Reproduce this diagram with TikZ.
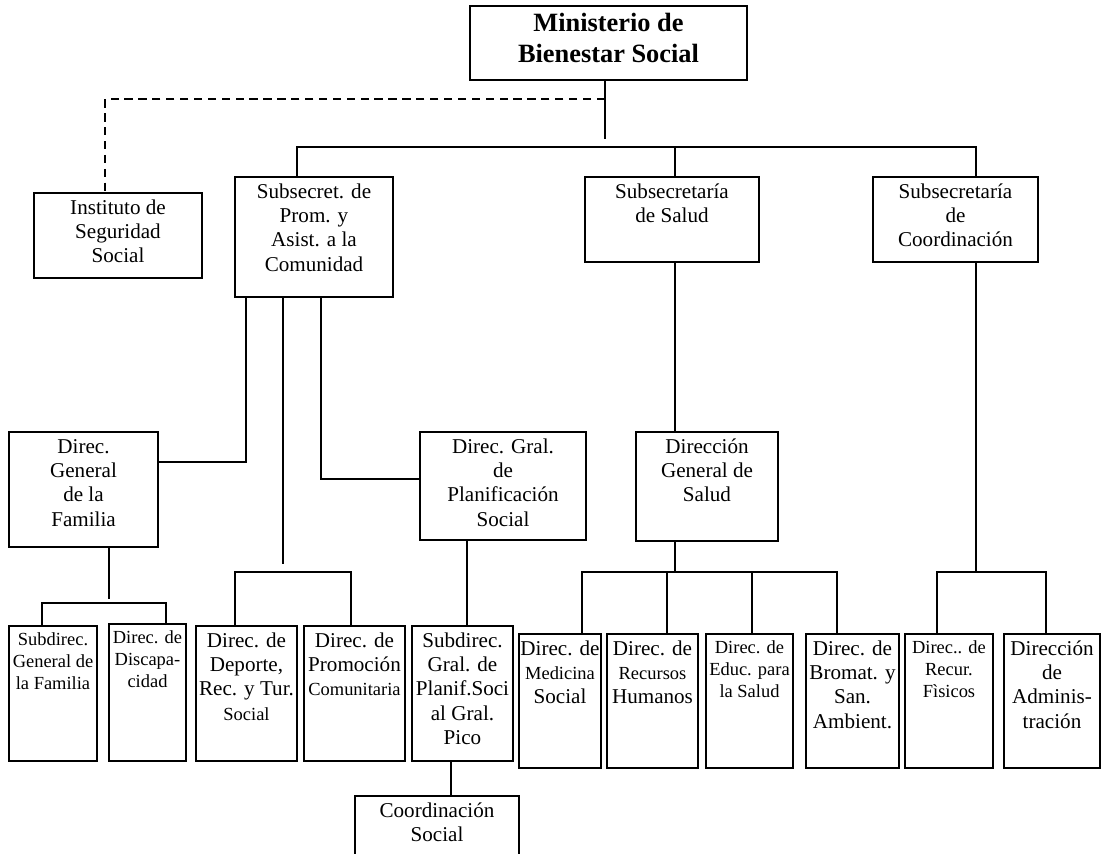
\documentclass[tikz,border=0pt]{standalone}
\usepackage{fontspec}
\setmainfont{Liberation Serif}
\usetikzlibrary{fit}
\newcommand{\normaltxt}{\fontsize{12pt}{13.9pt}\selectfont}
\newcommand{\smalltxt}{\fontsize{10.5pt}{12.5pt}\selectfont}
\newcommand{\boldtxt}{\fontsize{15pt}{17.6pt}\selectfont\bfseries}
% box of the chart: name, corners (x1,y1) (x2,y2), text set at its top
\newcommand{\orgbox}[7][]{%
  \node[box, fit={(#3,#4) (#5,#6)}] (#2) {};
  \node[txt, #1] (#2t) at (#2.north) {\strut#7};
}
\tikzset{
x=0.5687pt, y=-0.5687pt, % one unit is one pixel of the chart, y runs down
box/.style={draw, line width=1.1pt, inner sep=0pt}, % every unit of the chart
txt/.style={anchor=north, align=center, inner sep=0pt, yshift=-2.6pt, font=\normaltxt},
link/.style={line width=1pt}, % plain connector
dashlink/.style={line width=1pt, dash pattern=on 4.7pt off 3.2pt}, % dashed connector
}
\begin{document}
\begin{tikzpicture}
\useasboundingbox (0,0) rectangle (1102,854);
\clip (0,0) rectangle (1102,854);
% top level
\orgbox[font=\boldtxt]{mbs}{470}{6}{747}{80}{Ministerio de\\Bienestar Social}
\orgbox{inst}{34}{193}{202}{278}{Instituto de\\Seguridad\\Social}
\orgbox{subprom}{235}{177}{393}{297}{Subsecret. de\\Prom. y\\Asist. a la\\Comunidad}
\orgbox{subsal}{585}{177}{759}{262}{Subsecretaría\\de Salud}
\orgbox{subcoord}{873}{177}{1038}{262}{Subsecretaría\\de\\Coordinación}
% general directions
\orgbox{dgfam}{9}{432}{158}{547}{Direc.\\General\\de la\\Familia}
\orgbox{dgplan}{420}{432}{586}{540}{Direc. Gral.\\de\\Planificación\\Social}
\orgbox{dgsal}{636}{432}{778}{541}{Dirección\\General de\\Salud}
% directions
\orgbox[font=\smalltxt]{sdfam}{9}{626}{97}{761}{Subdirec.\\General de\\la Familia}
\orgbox[font=\smalltxt]{ddisc}{109}{624}{186}{761}{Direc. de\\Discapa-\\cidad}
\orgbox{ddep}{196}{626}{297}{761}{Direc. de\\Deporte,\\Rec. y Tur.\\{\smalltxt Social}}
\orgbox{dprom}{304}{626}{405}{761}{Direc. de\\Promoción\\{\smalltxt Comunitaria}}
\orgbox{sdplan}{412}{626}{513}{761}{Subdirec.\\Gral. de\\Planif.Soci\\al Gral.\\Pico}
\orgbox{dmed}{519}{634}{601}{768}{Direc. de\\{\smalltxt Medicina}\\Social}
\orgbox{drrhh}{607}{634}{698}{768}{Direc. de\\{\smalltxt Recursos}\\Humanos}
\orgbox[font=\smalltxt]{deduc}{706}{634}{793}{768}{Direc. de\\Educ. para\\la Salud}
\orgbox{dbrom}{806}{634}{899}{768}{Direc. de\\Bromat. y\\San.\\Ambient.}
\orgbox[font=\smalltxt]{dfis}{905}{634}{993}{768}{Direc.. de\\Recur.\\Fìsicos}
\orgbox{dadm}{1004}{634}{1100}{768}{Dirección\\de\\Adminis-\\tración}
\orgbox{coordsoc}{355}{796}{519}{880}{Coordinación\\Social}
% junctions
\coordinate (dsh) at (605,99.3);
\coordinate (mend) at (605,139);
\coordinate (mbus) at (605,147);
\coordinate (pa) at (246,462);
\coordinate (pb) at (283.3,564);
\coordinate (pc) at (320.7,479);
\coordinate (pbus) at (283.3,572);
\coordinate (fbus) at (109,602.7);
\coordinate (sbus) at (675,572);
\coordinate (cbus) at (976,572);
% connectors
\draw[link] (mbs.south -| mend) -- (mend);
\draw[dashlink] (dsh) -| (inst.north -| 105,0);
\draw[link] (subprom.north -| 296.7,0) |- (mbus);
\draw[link] (subsal.north -| 675,0) |- (mbus);
\draw[link] (subcoord.north -| 976,0) |- (mbus);
\draw[link] (subprom.south -| pa) -- (pa) -- (dgfam.east |- pa);
\draw[link] (subprom.south -| pb) -- (pb);
\draw[link] (subprom.south -| pc) -- (pc) -- (dgplan.west |- pc);
\draw[link] (ddep.north -| 235,0) |- (pbus);
\draw[link] (dprom.north -| 350.7,0) |- (pbus);
\draw[link] (dgfam.south -| fbus) -- ([yshift=2pt]fbus);
\draw[link] (sdfam.north -| 42,0) |- (fbus);
\draw[link] (ddisc.north -| 165.7,0) |- (fbus);
\draw[link] (dgplan.south -| 466.7,0) -- (sdplan.north -| 466.7,0);
\draw[link] (sdplan.south -| 451.3,0) -- (coordsoc.north -| 451.3,0);
\draw[link] (subsal.south -| sbus) -- (dgsal.north -| sbus);
\draw[link] (dgsal.south -| sbus) -- (sbus);
\draw[link] (dmed.north -| 582.3,0) |- (sbus);
\draw[link] (drrhh.north -| 667.3,0) |- (sbus);
\draw[link] (deduc.north -| 752.3,0) |- (sbus);
\draw[link] (dbrom.north -| 837.3,0) |- (sbus);
\draw[link] (subcoord.south -| cbus) -- (cbus);
\draw[link] (dfis.north -| 937.3,0) |- (cbus);
\draw[link] (dadm.north -| 1045.7,0) |- (cbus);
\end{tikzpicture}
\end{document}
